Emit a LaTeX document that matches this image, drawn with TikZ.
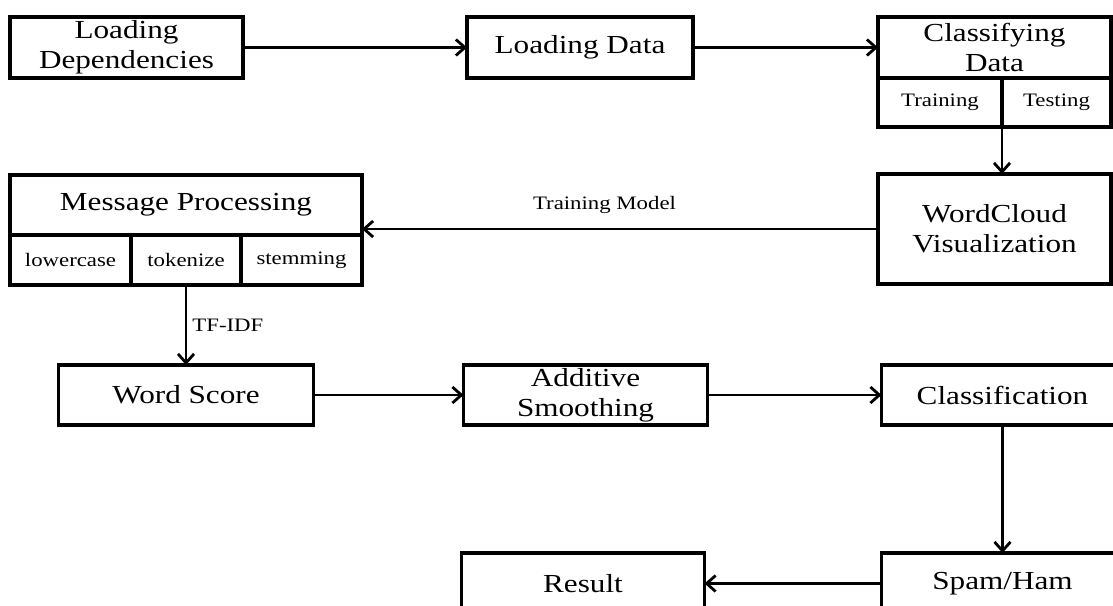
\documentclass[tikz,border=0pt]{standalone}
\usepackage{fontspec}
\setmainfont[FakeStretch=1.2]{Liberation Serif}
\usetikzlibrary{arrows.meta,positioning}

\begin{document}
\begin{tikzpicture}[x=1pt,y=-1pt,>={Straight Barb[length=9pt,width=16pt]},
  blk/.style={draw,line width=3.2pt,inner sep=0pt,outer sep=0pt,minimum height=61pt,align=center,font=\fontsize{26}{30}\selectfont},
  cell/.style={blk,minimum height=49pt,font=\fontsize{19}{22}\selectfont},
  arr/.style={->,line width=2.8pt},
  lbl/.style={font=\fontsize{19}{22}\selectfont,inner sep=0pt}]
\useasboundingbox (0,0) rectangle (1113,605);
\clip (0,0) rectangle (1113,605);
\node[blk,minimum width=233pt] (deps) at (126.5,47.5) {Loading\\Dependencies};
\node[blk,minimum width=226pt,right=224pt of deps] (load) {Loading Data};
\node[blk,minimum width=233pt,right=185pt of load] (clsd) {Classifying\\Data};
\node[cell,minimum width=124pt,anchor=north west] (train) at (clsd.south west) {Training};
\node[cell,minimum width=109pt,right=0pt of train] (test) {Testing};
\draw[arr] (deps)--(load);\draw[arr] (load)--(clsd);
\node[blk,minimum width=233pt,minimum height=110pt,below=47pt of train.south west,anchor=north west] (wc) {WordCloud\\Visualization};
\draw[arr] (train.south east)--(train.south east |- wc.north);
\node[blk,minimum width=352pt,minimum height=60pt,anchor=north west] (msg) at (10,175) {Message Processing};
\node[cell,minimum width=121pt,minimum height=50pt,anchor=north west] (lower) at (msg.south west) {lowercase};
\node[cell,minimum width=110pt,minimum height=50pt,right=0pt of lower] (token) {tokenize};
\node[cell,minimum width=121pt,minimum height=50pt,right=0pt of token] (stem) {stemming};
\draw[arr] (wc.west)--(wc.west -| msg.east) node[pos=0.53,above=14pt,lbl] {Training Model};
\node[blk,minimum width=255pt,minimum height=60pt,below=80pt of token] (word) {Word Score};
\draw[arr] (token.south)--(word.north) node[midway,right=5pt,lbl] {TF-IDF};
\node[blk,minimum width=244pt,minimum height=60pt,right=150pt of word] (add) {Additive\\Smoothing};
\node[blk,minimum width=242pt,minimum height=60pt,right=174pt of add] (clsn) {Classification};
\draw[arr] (word)--(add);\draw[arr] (add)--(clsn);
\node[blk,minimum width=242pt,below=128pt of clsn] (spam) {Spam/Ham};
\node[blk,minimum width=243pt,left=177pt of spam] (result) {Result};
\draw[arr] (clsn)--(spam);\draw[arr] (spam)--(result);
\end{tikzpicture}
\end{document}
